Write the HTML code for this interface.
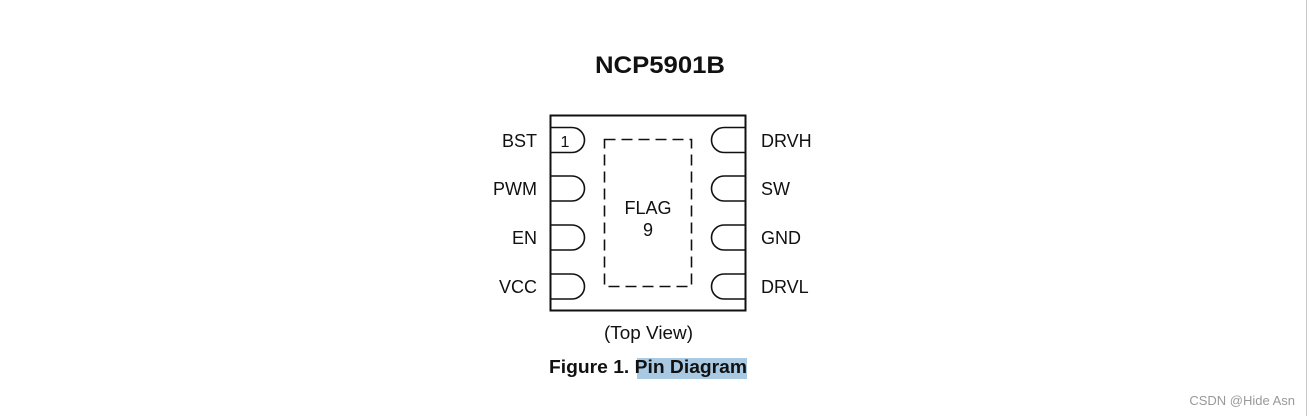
<!DOCTYPE html>
<html><head><style>
html,body{margin:0;padding:0;background:#fff;width:1310px;height:416px;overflow:hidden}
svg{display:block}
text{font-family:"Liberation Sans",Arial,sans-serif;fill:#111}
</style></head><body>
<svg width="1310" height="416" viewBox="0 0 1310 416">
<line x1="1306.5" y1="0" x2="1306.5" y2="416" stroke="#c8c8c8" stroke-width="1"/>
<text x="595" y="73" font-size="24" font-weight="bold" textLength="130" lengthAdjust="spacingAndGlyphs">NCP5901B</text>
<rect x="550.5" y="115.5" width="195" height="195" fill="none" stroke="#111" stroke-width="2"/>
<g fill="none" stroke="#111" stroke-width="1.6">
<path d="M550 127.5 H572 A12.5 12.5 0 0 1 572 152.5 H550"/>
<path d="M550 176 H572 A12.5 12.5 0 0 1 572 201 H550"/>
<path d="M550 225 H572 A12.5 12.5 0 0 1 572 250 H550"/>
<path d="M550 274 H572 A12.5 12.5 0 0 1 572 299 H550"/>
<path d="M746 127.5 H724 A12.5 12.5 0 0 0 724 152.5 H746"/>
<path d="M746 176 H724 A12.5 12.5 0 0 0 724 201 H746"/>
<path d="M746 225 H724 A12.5 12.5 0 0 0 724 250 H746"/>
<path d="M746 274 H724 A12.5 12.5 0 0 0 724 299 H746"/>
<rect x="604.5" y="139.5" width="87" height="147" stroke-dasharray="11,6"/>
</g>
<g font-size="18">
<text x="565" y="147" text-anchor="middle" font-size="16">1</text>
<text x="537" y="147" text-anchor="end">BST</text>
<text x="537" y="195" text-anchor="end">PWM</text>
<text x="537" y="244" text-anchor="end">EN</text>
<text x="537" y="293" text-anchor="end">VCC</text>
<text x="761" y="147">DRVH</text>
<text x="761" y="195">SW</text>
<text x="761" y="244">GND</text>
<text x="761" y="293">DRVL</text>
<text x="648" y="214" text-anchor="middle">FLAG</text>
<text x="648" y="236" text-anchor="middle">9</text>
<text x="604" y="339" textLength="89" lengthAdjust="spacingAndGlyphs">(Top View)</text>
</g>
<rect x="637" y="358" width="110" height="21" fill="#a9c9e2"/>
<text x="549" y="373" font-size="18" font-weight="bold" textLength="198" lengthAdjust="spacingAndGlyphs">Figure 1. Pin Diagram</text>
<text x="1295" y="405" font-size="13" text-anchor="end" style="fill:#999">CSDN @Hide Asn</text>
</svg>
</body></html>
